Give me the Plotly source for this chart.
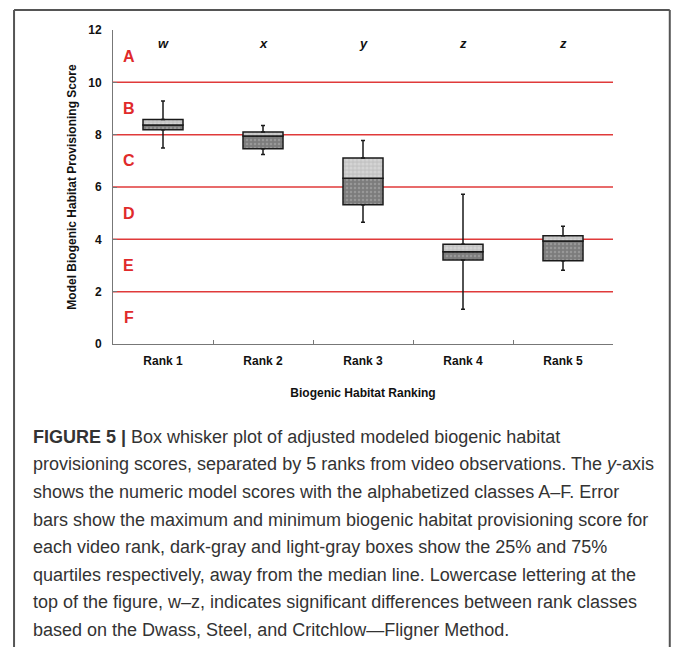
import plotly.graph_objects as go

ranks = ["Rank 1", "Rank 2", "Rank 3", "Rank 4", "Rank 5"]
max_v = [9.29, 8.35, 7.78, 5.72, 4.50]
q3_v = [8.58, 8.10, 7.11, 3.81, 4.14]
med_v = [8.37, 7.95, 6.33, 3.53, 3.94]
q1_v = [8.19, 7.46, 5.32, 3.21, 3.18]
min_v = [7.49, 7.24, 4.65, 1.33, 2.82]
sig_letters = ["w", "x", "y", "z", "z"]
class_bounds = [2, 4, 6, 8, 10]
class_labels = ["A", "B", "C", "D", "E", "F"]
class_mids = [11, 9, 7, 5, 3, 1]
y_ticks = [0, 2, 4, 6, 8, 10, 12]

caption_lines = [
    "<b>FIGURE 5 |</b> Box whisker plot of adjusted modeled biogenic habitat",
    "provisioning scores, separated by 5 ranks from video observations. The <i>y</i>-axis",
    "shows the numeric model scores with the alphabetized classes A–F. Error",
    "bars show the maximum and minimum biogenic habitat provisioning score for",
    "each video rank, dark-gray and light-gray boxes show the 25% and 75%",
    "quartiles respectively, away from the median line. Lowercase lettering at the",
    "top of the figure, w–z, indicates significant differences between rank classes",
    "based on the Dwass, Steel, and Critchlow—Fligner Method.",
]

W, H = 673, 647
L, T = 113, 30
pw, ph = 500.2, 314.5
R = W - L - pw
B = H - T - ph


def px_x(xp):
    return (xp - L) / pw


def px_y(yp):
    return (T + ph - yp) / ph


fig = go.Figure()

lower_h = [m - q for m, q in zip(med_v, q1_v)]
upper_h = [q - m for q, m in zip(q3_v, med_v)]

fig.add_trace(go.Bar(
    x=ranks, y=lower_h, base=q1_v, width=0.4,
    marker=dict(color="#858585", line=dict(color="#1a1a1a", width=1.5),
                pattern=dict(shape=".", bgcolor="#7c7c7c", fgcolor="#b4b4b4",
                             size=4, solidity=0.3, fillmode="overlay")),
    showlegend=False, hoverinfo="skip"))
fig.add_trace(go.Bar(
    x=ranks, y=upper_h, base=med_v, width=0.4,
    marker=dict(color="#cfcfcf", line=dict(color="#1a1a1a", width=1.5),
                pattern=dict(shape=".", bgcolor="#c4c4c4", fgcolor="#e4e4e4",
                             size=4, solidity=0.5, fillmode="overlay")),
    showlegend=False, hoverinfo="skip"))

fig.add_trace(go.Scatter(
    x=ranks, y=q3_v, mode="markers", marker=dict(size=1, color="rgba(0,0,0,0)"),
    error_y=dict(type="data", symmetric=False,
                 array=[mx - q for mx, q in zip(max_v, q3_v)],
                 arrayminus=[0] * 5, width=2, thickness=1.5, color="#1a1a1a"),
    showlegend=False, hoverinfo="skip"))
fig.add_trace(go.Scatter(
    x=ranks, y=q1_v, mode="markers", marker=dict(size=1, color="rgba(0,0,0,0)"),
    error_y=dict(type="data", symmetric=False, array=[0] * 5,
                 arrayminus=[q - mn for q, mn in zip(q1_v, min_v)],
                 width=2, thickness=1.5, color="#1a1a1a"),
    showlegend=False, hoverinfo="skip"))

for b in class_bounds:
    fig.add_hline(y=b, line=dict(color="#e03a3a", width=1.5), layer="below")

for lab, ym in zip(class_labels, class_mids):
    fig.add_annotation(x=0.031, xref="x domain", xanchor="center", y=ym, yref="y",
                       text="<b>" + lab + "</b>", showarrow=False,
                       font=dict(family="Liberation Sans", size=16, color="#e02a2a"))

for rk, s in zip(ranks, sig_letters):
    fig.add_annotation(x=rk, y=11.47, yref="y", text="<b><i>" + s + "</i></b>",
                       showarrow=False, font=dict(family="Liberation Sans", size=13, color="#111"))

line_h = 27.6
y0_px = 437.5
for i, ln in enumerate(caption_lines):
    ypx = y0_px + i * line_h
    fig.add_annotation(x=px_x(31), xref="paper", xanchor="left",
                       y=px_y(ypx), yref="paper", yanchor="middle",
                       text=ln, showarrow=False, align="left",
                       font=dict(family="Liberation Sans", size=18, color="#333333"))

# outer frame (three visible sides)
fx0, fx1, fy0, fy1 = px_x(14), px_x(670), px_y(700), px_y(10)
frame_style = dict(color="#555555", width=2)
fig.add_shape(type="line", xref="paper", yref="paper", x0=fx0, x1=fx1, y0=fy1, y1=fy1,
              line=frame_style, layer="below")
fig.add_shape(type="line", xref="paper", yref="paper", x0=fx0, x1=fx0, y0=fy0, y1=fy1,
              line=frame_style, layer="below")
fig.add_shape(type="line", xref="paper", yref="paper", x0=fx1, x1=fx1, y0=fy0, y1=fy1,
              line=frame_style, layer="below")

fig.update_layout(
    width=W, height=H,
    margin=dict(l=L, r=R, t=T, b=B, pad=0, autoexpand=False),
    plot_bgcolor="white", paper_bgcolor="white",
    barmode="overlay",
    font=dict(family="Liberation Sans", color="#111"),
    xaxis=dict(type="category", range=[-0.5, 4.5], showline=True, linecolor="#777777", linewidth=1,
               ticks="inside", tickson="boundaries", ticklen=4, tickcolor="#777777",
               showgrid=False, tickfont=dict(size=12, weight="bold", color="#111"),
               ticklabelstandoff=6,
               title=dict(text="<b>Biogenic Habitat Ranking</b>", font=dict(size=12), standoff=21)),
    yaxis=dict(range=[0, 12], tickvals=y_ticks, showline=True, linecolor="#777777", linewidth=1,
               ticks="inside", ticklen=4, tickcolor="#777777", showgrid=False, zeroline=False,
               tickfont=dict(size=12, weight="bold", color="#111"), ticklabelstandoff=8,
               title=dict(text="<b>Model Biogenic Habitat Provisioning Score</b>", font=dict(size=12),
                          standoff=9)),
)

fig.write_html("out.html", config={"displayModeBar": False},
               post_script="document.body.style.margin='0';document.body.style.overflow='hidden';")
